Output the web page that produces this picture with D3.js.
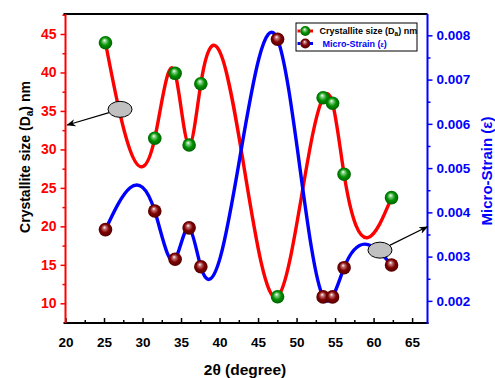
<!DOCTYPE html>
<html><head><meta charset="utf-8">
<script src="https://cdn.jsdelivr.net/npm/d3@7"></script>
<style>body{margin:0;background:#fff}svg{display:block}text{font-family:"Liberation Sans",Arial,sans-serif;font-weight:bold}</style>
</head><body><svg id="c" width="495" height="378"></svg>
<script>
// ---- data ----
const twoTheta = [25.19, 31.59, 34.23, 36.05, 37.57, 47.53, 53.45, 54.67, 56.17, 62.33];
const crystalliteSize = [43.87, 31.45, 39.89, 30.57, 38.54, 10.86, 36.72, 36.0, 26.77, 23.73];
const microStrain = [0.00361, 0.00403, 0.00294, 0.00365, 0.00277, 0.00791, 0.00209, 0.00209, 0.00275, 0.00281];
const xTickValues = [20, 25, 30, 35, 40, 45, 50, 55, 60, 65];
const leftTickValues = [10, 15, 20, 25, 30, 35, 40, 45];
const rightTickValues = [0.002, 0.003, 0.004, 0.005, 0.006, 0.007, 0.008];
const legendLabels = ["Crystallite size (D", "Micro-Strain ("];
// annotations in data coords: ellipse centre + arrow tip (axis: "L" left, "R" right)
const annotations = [
  {axis: "L", cx: 27.08, cy: 35.21, tx: 20.23, ty: 33.17},
  {axis: "R", cx: 60.83, cy: 0.003146, tx: 66.97, ty: 0.003673}
];

const svg = d3.select("#c");
const L = 65.5, R = 427.5, T = 14, B = 323;
const x = d3.scaleLinear().domain([20, 67]).range([L, R]);
const yL = d3.scaleLinear().domain([7.44, 47.6]).range([B, T]);
const yR = d3.scaleLinear().domain([0.0015, 0.008482]).range([B, T]);

// natural cubic spline y(x) curve
function curveSplineX(context) {
  return {
    areaStart() {}, areaEnd() {},
    lineStart() { this._x = []; this._y = []; },
    point(a, b) { this._x.push(+a); this._y.push(+b); },
    lineEnd() {
      const X = this._x, Y = this._y, n = X.length;
      if (!n) return;
      context.moveTo(X[0], Y[0]);
      if (n < 3) { for (let i = 1; i < n; i++) context.lineTo(X[i], Y[i]); return; }
      const h = [], M = new Array(n).fill(0);
      for (let i = 0; i < n - 1; i++) h.push(X[i + 1] - X[i]);
      const a = [], b = [], c = [], d = [];
      for (let i = 1; i < n - 1; i++) {
        a.push(h[i - 1]); b.push(2 * (h[i - 1] + h[i])); c.push(h[i]);
        d.push(6 * ((Y[i + 1] - Y[i]) / h[i] - (Y[i] - Y[i - 1]) / h[i - 1]));
      }
      const m = b.length;
      for (let i = 1; i < m; i++) { const w = a[i] / b[i - 1]; b[i] -= w * c[i - 1]; d[i] -= w * d[i - 1]; }
      const sol = new Array(m);
      sol[m - 1] = d[m - 1] / b[m - 1];
      for (let i = m - 2; i >= 0; i--) sol[i] = (d[i] - c[i] * sol[i + 1]) / b[i];
      for (let i = 0; i < m; i++) M[i + 1] = sol[i];
      for (let i = 0; i < n - 1; i++) {
        const hi = h[i], s = (Y[i + 1] - Y[i]) / hi;
        const d0 = s - hi * (2 * M[i] + M[i + 1]) / 6;
        const d1 = s + hi * (M[i] + 2 * M[i + 1]) / 6;
        context.bezierCurveTo(X[i] + hi / 3, Y[i] + d0 * hi / 3, X[i + 1] - hi / 3, Y[i + 1] - d1 * hi / 3, X[i + 1], Y[i + 1]);
      }
    }
  };
}

const defs = svg.append("defs");
function grad(id, c0, c1, c2) {
  const g = defs.append("radialGradient").attr("id", id).attr("cx", "0.5").attr("cy", "0.5").attr("r", "0.55").attr("fx", "0.42").attr("fy", "0.32");
  g.append("stop").attr("offset", "0%").attr("stop-color", "#ffffff");
  g.append("stop").attr("offset", "22%").attr("stop-color", c0);
  g.append("stop").attr("offset", "55%").attr("stop-color", c1);
  g.append("stop").attr("offset", "100%").attr("stop-color", c2);
}
grad("gG", "#7fcf7f", "#009000", "#005a00");
grad("gB", "#c07070", "#800000", "#4a0000");
defs.append("marker").attr("id", "arr").attr("viewBox", "0 0 10 10").attr("refX", 9).attr("refY", 5)
  .attr("markerWidth", 9).attr("markerHeight", 9).attr("markerUnits", "userSpaceOnUse").attr("orient", "auto")
  .append("path").attr("d", "M0,1 L10,5 L0,9 L3,5 Z").attr("fill", "#000");

// axes
const minorL = d3.range(12.5, 47.6, 5);
const minorR = d3.range(0.0025, 0.0081, 0.001);
const minorX = d3.range(22.5, 67, 5);

function styleAxis(g, col) {
  g.selectAll("path.domain").remove();
  g.selectAll("line").attr("stroke", col).attr("stroke-width", 1.5);
  g.selectAll("text").attr("fill", col);
}
const gxm = svg.append("g").attr("transform", `translate(0,${B})`)
  .call(d3.axisBottom(x).tickValues(minorX).tickSize(-3).tickFormat(""));
styleAxis(gxm, "#000");
const gx = svg.append("g").attr("transform", `translate(0,${B})`)
  .call(d3.axisBottom(x).tickValues(xTickValues).tickSize(-5).tickPadding(14).tickFormat(d3.format("d")));
styleAxis(gx, "#000"); gx.selectAll("text").attr("font-size", 13.5);

const glm = svg.append("g").attr("transform", `translate(${L},0)`)
  .call(d3.axisLeft(yL).tickValues(minorL).tickSize(3).tickFormat(""));
styleAxis(glm, "#ff0000");
const gl = svg.append("g").attr("transform", `translate(${L},0)`)
  .call(d3.axisLeft(yL).tickValues(leftTickValues).tickSize(5).tickPadding(4).tickFormat(d3.format("d")));
styleAxis(gl, "#ff0000"); gl.selectAll("text").attr("font-size", 14);

const grm = svg.append("g").attr("transform", `translate(${R},0)`)
  .call(d3.axisRight(yR).tickValues(minorR).tickSize(3).tickFormat(""));
styleAxis(grm, "#0000ff");
const gr = svg.append("g").attr("transform", `translate(${R},0)`)
  .call(d3.axisRight(yR).tickValues(rightTickValues).tickSize(5).tickPadding(4).tickFormat(d3.format(".3f")));
styleAxis(gr, "#0000ff"); gr.selectAll("text").attr("font-size", 13.5);

// frame lines
svg.append("line").attr("x1", L - 2).attr("x2", R).attr("y1", T).attr("y2", T).attr("stroke", "#000").attr("stroke-width", 2);
svg.append("line").attr("x1", L - 2).attr("x2", R + 1).attr("y1", B).attr("y2", B).attr("stroke", "#000").attr("stroke-width", 2);
svg.append("line").attr("x1", L).attr("x2", L).attr("y1", T).attr("y2", B).attr("stroke", "#ff0000").attr("stroke-width", 2);
svg.append("line").attr("x1", R).attr("x2", R).attr("y1", T).attr("y2", B + 1).attr("stroke", "#0000ff").attr("stroke-width", 2);

// curves
const idx = d3.range(twoTheta.length);
svg.append("path").attr("fill", "none").attr("stroke", "#ff0000").attr("stroke-width", 3.4)
  .attr("d", d3.line().x(i => x(twoTheta[i])).y(i => yL(crystalliteSize[i])).curve(curveSplineX)(idx));
svg.append("path").attr("fill", "none").attr("stroke", "#0000ff").attr("stroke-width", 3.4)
  .attr("d", d3.line().x(i => x(twoTheta[i])).y(i => yR(microStrain[i])).curve(curveSplineX)(idx));

// markers
svg.append("g").selectAll("circle").data(idx).join("circle")
  .attr("cx", i => x(twoTheta[i])).attr("cy", i => yL(crystalliteSize[i])).attr("r", 6.8).attr("fill", "url(#gG)");
svg.append("g").selectAll("circle").data(idx).join("circle")
  .attr("cx", i => x(twoTheta[i])).attr("cy", i => yR(microStrain[i])).attr("r", 6.8).attr("fill", "url(#gB)");

// annotations
annotations.forEach(a => {
  const ys = a.axis === "L" ? yL : yR;
  const cx = x(a.cx), cy = ys(a.cy), tx = x(a.tx), ty = ys(a.ty);
  const rx = 12, ry = 8;
  const ang = Math.atan2(ty - cy, tx - cx);
  const t = 1 / Math.sqrt((Math.cos(ang) / rx) ** 2 + (Math.sin(ang) / ry) ** 2);
  svg.append("line").attr("x1", cx + t * Math.cos(ang)).attr("y1", cy + t * Math.sin(ang))
    .attr("x2", tx).attr("y2", ty).attr("stroke", "#000").attr("stroke-width", 1.2).attr("marker-end", "url(#arr)");
  svg.append("ellipse").attr("cx", cx).attr("cy", cy).attr("rx", rx).attr("ry", ry)
    .attr("fill", "#c0c0c0").attr("stroke", "#000").attr("stroke-width", 1);
});

// axis titles
const tl = svg.append("text").attr("transform", "translate(30,157) rotate(-90)").attr("text-anchor", "middle")
  .attr("font-size", 14).attr("fill", "#000");
tl.append("tspan").text("Crystallite size (D");
tl.append("tspan").text("a").attr("font-size", 10).attr("dy", 3);
tl.append("tspan").text(") nm").attr("dy", -3);
svg.append("text").attr("transform", "translate(492,171) rotate(-90)").attr("text-anchor", "middle")
  .attr("font-size", 15).attr("fill", "#0000ff").text("Micro-Strain (ε)");
svg.append("text").attr("x", 245).attr("y", 375).attr("text-anchor", "middle").attr("font-size", 15.5).attr("fill", "#000").text("2θ (degree)");

// legend
const lg = svg.append("g");
lg.append("rect").attr("x", 296).attr("y", 23).attr("width", 121).attr("height", 28).attr("fill", "#fff").attr("stroke", "#000").attr("stroke-width", 1);
const rows = [{y: 31, c: "#ff0000", g: "url(#gG)", tc: "#000", tx: 319.5}, {y: 43.5, c: "#0000ff", g: "url(#gB)", tc: "#0000ff", tx: 322.5}];
rows.forEach((r, k) => {
  lg.append("rect").attr("x", 297.5).attr("y", r.y - 1.5).attr("width", 3).attr("height", 3).attr("fill", r.c);
  lg.append("rect").attr("x", 310).attr("y", r.y - 1.5).attr("width", 3).attr("height", 3).attr("fill", r.c);
  lg.append("circle").attr("cx", 305.3).attr("cy", r.y).attr("r", 5).attr("fill", r.g);
  const t = lg.append("text").attr("x", r.tx).attr("y", r.y + 3.3).attr("font-size", 9).attr("fill", r.tc);
  t.append("tspan").text(legendLabels[k]);
  if (k === 0) {
    t.append("tspan").text("a").attr("font-size", 6.5).attr("dy", 2);
    t.append("tspan").text(") nm").attr("dy", -2);
  } else {
    t.append("tspan").text("ε").attr("font-size", 7);
    t.append("tspan").text(")");
  }
});
</script></body></html>
